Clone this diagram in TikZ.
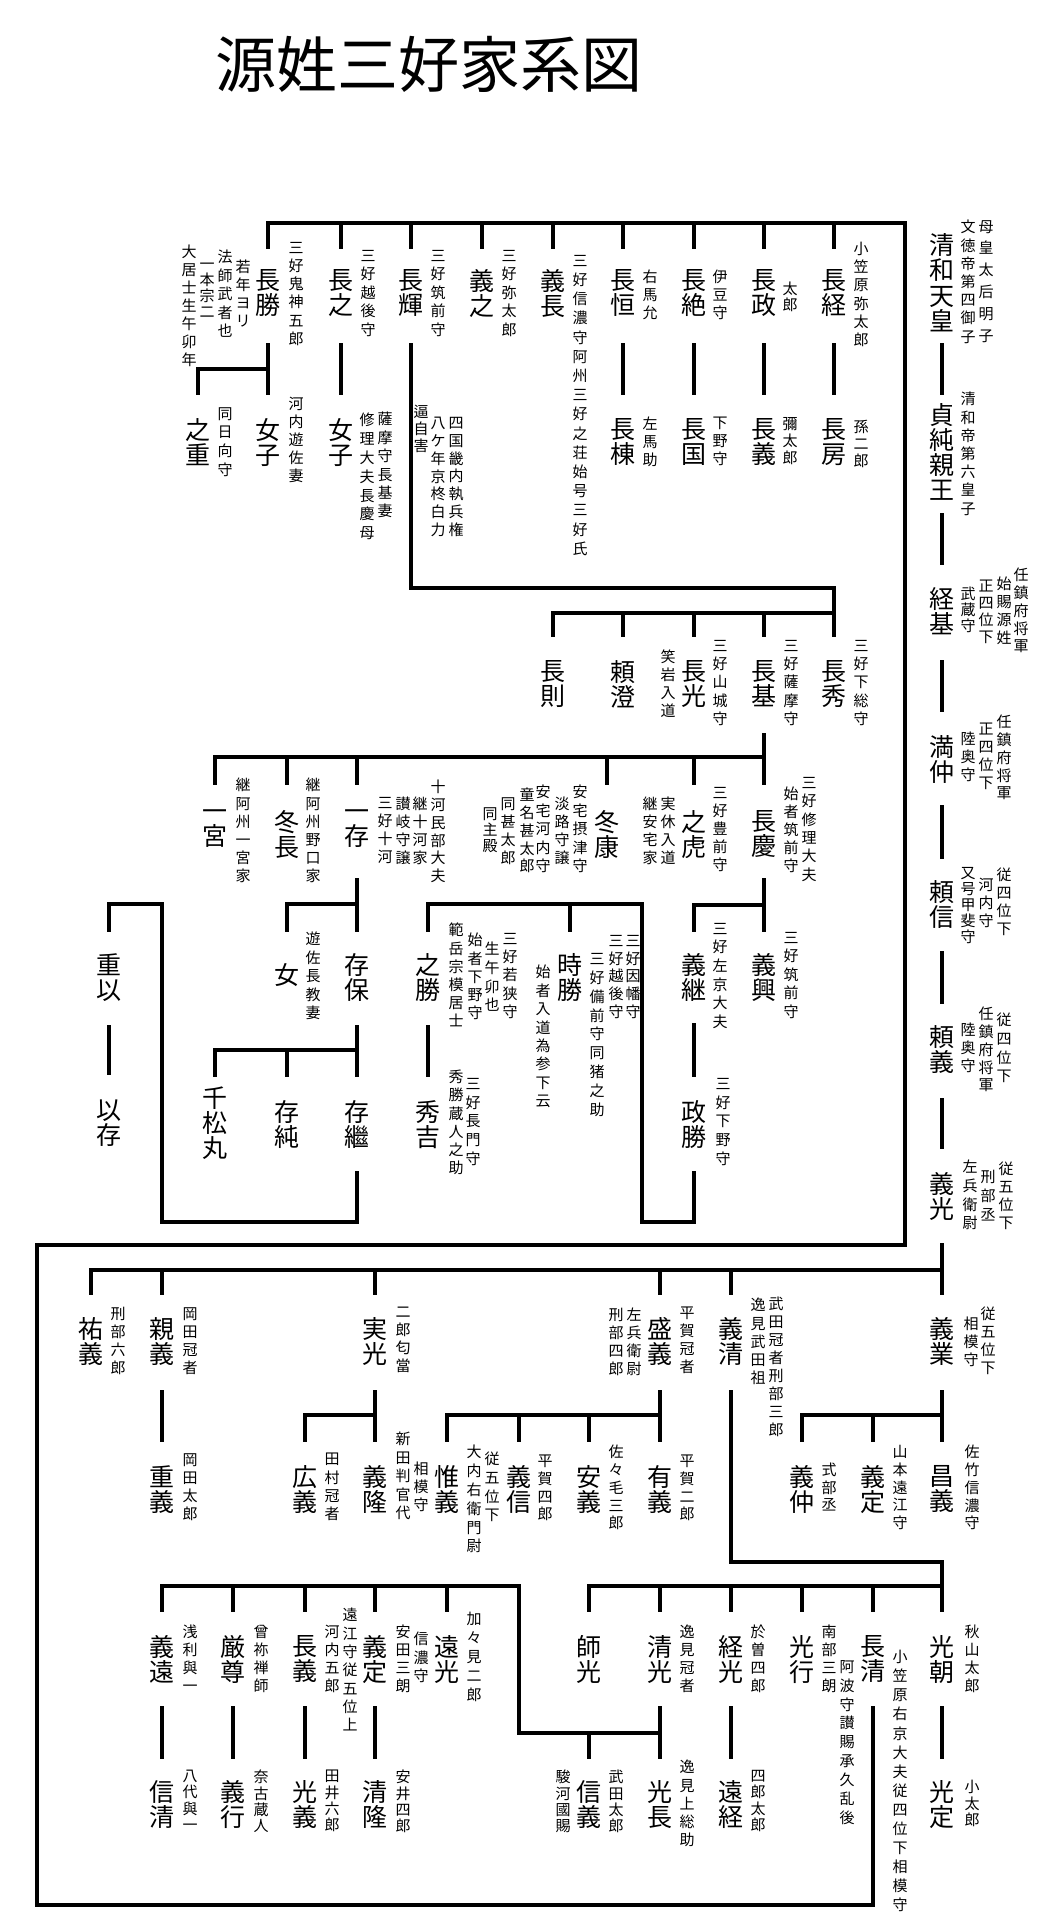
\documentclass[tikz,border=0pt]{standalone}
\usepackage{fontspec}
\newfontfamily\jp{Noto Sans CJK JP}
\def\vtend{\vtend}
\def\vtl#1{\ifx#1\vtend\else\hbox to 1em{\hss#1\hss}\expandafter\vtl\fi}
\newcommand\VT[2]{\vbox{\baselineskip=#1pt\lineskiplimit=-1000pt\lineskip=0pt\vtl#2\vtend}}
\newcommand\nmfont{\jp\fontsize{25}{25}\selectfont}
\newcommand\anfont{\jp\fontsize{15}{15}\selectfont}
\newcount\ancount
\tikzset{
  nm/.style={font=\nmfont, inner sep=0pt, anchor=north},
  an/.style={font=\anfont, inner sep=0pt, anchor=north},
  link/.style={line width=3.5pt, line cap=rect, line join=miter},
}
\newcommand\Nm[4]{\node[nm] (#1) at (#2,#3) {\VT{25}{#4}};}
\newcommand\An[4]{\global\advance\ancount by 1\node[an] (an\the\ancount) at (#1,#2) {\VT{#3}{#4}};}
\begin{document}
\begin{tikzpicture}[x=1pt,y=-1pt]
\fill[white] (0,0) rectangle (1055,1920);
\useasboundingbox (0,0) rectangle (1055,1920);
\node[font=\jp\fontsize{61}{61}\selectfont, inner sep=0pt] (title) at (429,64) {源姓三好家系図};

% ---------- trunk ----------
\node[nm] (t1) at (942,233) {\VT{25.5}{清和天皇}};
\node[nm] (t2) at (942,403) {\VT{25}{貞純親王}};
\Nm{t3}{942}{587}{経基}
\Nm{t4}{942}{735}{満仲}
\Nm{t5}{942}{880}{頼信}
\Nm{t6}{942}{1025}{頼義}
\Nm{t7}{942}{1172}{義光}

% ---------- top row ----------
\Nm{a1}{268}{269}{長勝}
\Nm{a2}{341}{269}{長之}
\Nm{a3}{411}{269}{長輝}
\Nm{a4}{482}{269}{義之}
\Nm{a5}{553}{269}{義長}
\Nm{a6}{623}{269}{長恒}
\Nm{a7}{694}{269}{長絶}
\Nm{a8}{764}{269}{長政}
\Nm{a9}{834}{269}{長経}
\Nm{b1}{198}{418}{之重}
\Nm{b2}{268}{418}{女子}
\Nm{b3}{341}{418}{女子}
\Nm{b6}{623}{418}{長棟}
\Nm{b7}{694}{418}{長国}
\Nm{b8}{764}{418}{長義}
\Nm{b9}{834}{418}{長房}

% ---------- row c ----------
\Nm{c1}{553}{660}{長則}
\Nm{c2}{623}{660}{頼澄}
\Nm{c3}{694}{660}{長光}
\Nm{c4}{764}{660}{長基}
\Nm{c5}{834}{660}{長秀}

% ---------- row d ----------
\Nm{d1}{215}{810}{一宮}
\Nm{d2}{287}{810}{冬長}
\Nm{d3}{357}{810}{一存}
\Nm{d4}{607}{810}{冬康}
\Nm{d5}{694}{810}{之虎}
\Nm{d6}{764}{810}{長慶}

% ---------- row e ----------
\Nm{e0}{109}{953}{重以}
\Nm{e1}{287}{963}{女}
\Nm{e2}{357}{953}{存保}
\Nm{e3}{428}{953}{之勝}
\Nm{e4}{570}{953}{時勝}
\Nm{e5}{694}{953}{義継}
\Nm{e6}{764}{953}{義興}

% ---------- row f ----------
\Nm{f0}{109}{1100}{以存}
\Nm{f1}{215}{1087}{千松丸}
\Nm{f2}{287}{1100}{存純}
\Nm{f3}{357}{1100}{存繼}
\Nm{f4}{428}{1100}{秀吉}
\Nm{f5}{694}{1100}{政勝}

% ---------- row g ----------
\Nm{g1}{91}{1317}{祐義}
\Nm{g2}{162}{1317}{親義}
\Nm{g3}{375}{1317}{実光}
\Nm{g4}{660}{1317}{盛義}
\Nm{g5}{731}{1317}{義清}
\Nm{g6}{942}{1317}{義業}

% ---------- row h ----------
\Nm{h1}{162}{1465}{重義}
\Nm{h2}{305}{1465}{広義}
\Nm{h3}{375}{1465}{義隆}
\Nm{h4}{447}{1465}{惟義}
\Nm{h5}{519}{1465}{義信}
\Nm{h6}{589}{1465}{安義}
\Nm{h7}{660}{1465}{有義}
\Nm{h8}{802}{1465}{義仲}
\Nm{h9}{873}{1465}{義定}
\Nm{h10}{942}{1465}{昌義}

% ---------- row i ----------
\Nm{i1}{162}{1635}{義遠}
\Nm{i2}{233}{1635}{厳尊}
\Nm{i3}{305}{1635}{長義}
\Nm{i4}{375}{1635}{義定}
\Nm{i5}{447}{1635}{遠光}
\Nm{i6}{589}{1635}{師光}
\Nm{i7}{660}{1635}{清光}
\Nm{i8}{731}{1635}{経光}
\Nm{i9}{802}{1635}{光行}
\Nm{i10}{873}{1635}{長清}
\Nm{i11}{942}{1635}{光朝}

% ---------- row j ----------
\Nm{j1}{162}{1780}{信清}
\Nm{j2}{233}{1780}{義行}
\Nm{j3}{305}{1780}{光義}
\Nm{j4}{375}{1780}{清隆}
\Nm{j5}{589}{1780}{信義}
\Nm{j6}{660}{1780}{光長}
\Nm{j7}{731}{1780}{遠経}
\Nm{j8}{942}{1780}{光定}

% ---------- annotations ----------
\An{861}{242}{18.2}{小笠原弥太郎}
\An{861}{420}{17}{孫二郎}
\An{790}{282}{16}{太郎}
\An{790}{417}{17}{彌太郎}
\An{720}{270}{18}{伊豆守}
\An{720}{417}{18}{下野守}
\An{650}{270}{18}{右馬允}
\An{650}{417}{18}{左馬助}
\An{580}{255}{19.2}{三好信濃守阿州三好之荘始号三好氏}
\An{509}{250}{18.5}{三好弥太郎}
\An{438}{250}{18.5}{三好筑前守}
\An{368}{250}{18.5}{三好越後守}
\An{296}{242}{18.2}{三好鬼神五郎}
\An{243}{260}{18}{若年ヨリ}
\An{225}{250}{18.5}{法師武者也}
\An{207}{263}{16}{一本宗二}
\An{189}{245}{18}{大居士生午卯年}
\An{225}{407}{18.7}{同日向守}
\An{296}{397}{18}{河内遊佐妻}
\An{385}{412}{18.4}{薩摩守長基妻}
\An{367}{413}{18.8}{修理大夫長慶母}
\An{421}{405}{17}{逼自害}
\An{438}{417}{17.8}{八ケ年京柊白力}
\An{456}{417}{17.8}{四国畿内執兵権}

\An{986}{220}{21.8}{母皇太后明子}
\An{968}{220}{18.2}{文徳帝第四御子}
\An{968}{392}{18.2}{清和帝第六皇子}
\An{1021}{568}{17.75}{任鎮府将軍}
\An{1004}{577}{18}{始賜源姓}
\An{986}{580}{17}{正四位下}
\An{968}{587}{16}{武蔵守}
\An{1004}{715}{17.75}{任鎮府将軍}
\An{986}{723}{18}{正四位下}
\An{968}{732}{18}{陸奥守}
\An{1004}{868}{18}{従四位下}
\An{986}{878}{18}{河内守}
\An{968}{867}{16}{又号甲斐守}
\An{1004}{1013}{18.7}{従四位下}
\An{986}{1007}{17.75}{任鎮府将軍}
\An{968}{1023}{18}{陸奥守}
\An{1006}{1162}{18}{従五位下}
\An{988}{1170}{19}{刑部丞}
\An{970}{1160}{18.7}{左兵衛尉}

\An{861}{640}{18.25}{三好下総守}
\An{791}{640}{18.25}{三好薩摩守}
\An{720}{640}{18.25}{三好山城守}
\An{668}{650}{18}{笑岩入道}
\An{809}{777}{18.4}{三好修理大夫}
\An{791}{787}{18}{始者筑前守}
\An{720}{787}{18}{三好豊前守}
\An{668}{797}{18}{実休入道}
\An{650}{797}{18}{継安宅家}
\An{580}{785}{18.5}{安宅摂津守}
\An{562}{797}{18}{淡路守譲}
\An{543}{785}{18.5}{安宅河内守}
\An{527}{788}{17.75}{童名甚太郎}
\An{508}{797}{18}{同甚太郎}
\An{490}{807}{16}{同主殿}
\An{438}{780}{17.8}{十河民部大夫}
\An{420}{797}{18}{継十河家}
\An{403}{797}{18}{讃岐守譲}
\An{385}{797}{18}{三好十河}
\An{313}{778}{18.2}{継阿州野口家}
\An{243}{778}{18.2}{継阿州一宮家}
\An{791}{932}{18.5}{三好筑前守}
\An{720}{923}{18.6}{三好左京大夫}
\An{313}{932}{18.5}{遊佐長教妻}
\An{510}{933}{18.25}{三好若狭守}
\An{492}{942}{18.7}{生午卯也}
\An{475}{933}{18.25}{始者下野守}
\An{456}{923}{18.2}{範岳宗模居士}
\An{633}{935}{17.75}{三好因幡守}
\An{616}{935}{17.75}{三好越後守}
\An{597}{953}{18.9}{三好備前守同猪之助}
\An{543}{965}{18.4}{始者入道為参下云}
\An{473}{1078}{18.75}{三好長門守}
\An{456}{1070}{18.2}{秀勝蔵人之助}
\An{723}{1078}{18.75}{三好下野守}

\An{118}{1307}{18}{刑部六郎}
\An{190}{1307}{18}{岡田冠者}
\An{403}{1307}{18}{二郎匂當}
\An{687}{1307}{18}{平賀冠者}
\An{634}{1308}{18}{左兵衛尉}
\An{616}{1308}{18}{刑部四郎}
\An{776}{1297}{18}{武田冠者刑部三郎}
\An{758}{1298}{18.25}{逸見武田祖}
\An{971}{1317}{18}{相模守}
\An{988}{1307}{18}{従五位下}
\An{190}{1453}{18.3}{岡田太郎}
\An{332}{1453}{18.3}{田村冠者}
\An{403}{1432}{18.5}{新田判官代}
\An{421}{1462}{18}{相模守}
\An{492}{1452}{18.7}{従五位下}
\An{474}{1445}{18.8}{大内右衛門尉}
\An{545}{1455}{17.7}{平賀四郎}
\An{616}{1445}{17.75}{佐々毛三郎}
\An{687}{1455}{17.7}{平賀二郎}
\An{829}{1463}{17.5}{式部丞}
\An{900}{1445}{17.75}{山本遠江守}
\An{972}{1445}{17.75}{佐竹信濃守}
\An{190}{1625}{18}{浅利與一}
\An{261}{1625}{18}{曾祢禅師}
\An{332}{1625}{18}{河内五郎}
\An{350}{1608}{18.3}{遠江守従五位上}
\An{403}{1625}{18}{安田三朗}
\An{421}{1632}{18.5}{信濃守}
\An{474}{1612}{19}{加々見二郎}
\An{687}{1625}{18}{逸見冠者}
\An{758}{1625}{18}{於曽四郎}
\An{829}{1625}{18}{南部三朗}
\An{847}{1660}{18.9}{阿波守讃賜承久乱後}
\An{900}{1650}{19.1}{小笠原右京大夫従四位下相模守}
\An{972}{1625}{18}{秋山太郎}
\An{190}{1770}{16.3}{八代與一}
\An{261}{1770}{16.3}{奈古蔵人}
\An{332}{1770}{16.3}{田井六郎}
\An{403}{1770}{16.3}{安井四郎}
\An{616}{1770}{16.3}{武田太郎}
\An{563}{1770}{16.3}{駿河國賜}
\An{687}{1760}{18.25}{逸見上総助}
\An{758}{1770}{16.3}{四郎太郎}
\An{972}{1780}{16.5}{小太郎}

% ---------- named corner coordinates ----------
\coordinate (fbl) at (37,1905);
\coordinate (ftl) at (37,1245);
\coordinate (ftr) at (905,1245);
\coordinate (ftop) at (905,223);
\coordinate (kA) at (162,1222);
\coordinate (kB) at (162,904);
\coordinate (kC) at (642,1222);
\coordinate (kD) at (642,904);
\coordinate (kE) at (519,1733);
\coordinate (kF) at (519,1586);

% ---------- connectors ----------
% trunk
\draw[link] (t1.south |- 0,345) -- (t2.north |- 0,393);
\draw[link] (t2.south |- 0,515) -- (t3.north |- 0,563);
\draw[link] (t3.south |- 0,662) -- (t4.north |- 0,710);
\draw[link] (t4.south |- 0,807) -- (t5.north |- 0,857);
\draw[link] (t5.south |- 0,953) -- (t6.north |- 0,1002);
\draw[link] (t6.south |- 0,1100) -- (t7.north |- 0,1147);
\draw[link] (t7.south |- 0,1245) -- (g6.north |- 0,1293);
\draw[link] (g1.north |- 0,1293) -- (g1.north |- 0,1270) -- (g6.north |- 0,1270);
\foreach \n in {g2,g3,g4,g5} \draw[link] (\n.north |- 0,1270) -- (\n.north |- 0,1293);

% big frame from 長清 to the top row
\draw[link] (i10.south |- 0,1708) -- (i10.south |- fbl) -- (fbl) -- (ftl) -- (ftr) -- (ftop) -- (a1.north |- ftop) -- (a1.north |- 0,247);
\foreach \n in {a2,a3,a4,a5,a6,a7,a8,a9} \draw[link] (\n.north |- ftop) -- (\n.north |- 0,247);

% top row children
\draw[link] (a1.south |- 0,345) -- (b2.north |- 0,393);
\draw[link] (a1.south |- 0,369) -- (b1.north |- 0,369) -- (b1.north |- 0,393);
\draw[link] (a2.south |- 0,345) -- (b3.north |- 0,393);
\draw[link] (a6.south |- 0,345) -- (b6.north |- 0,393);
\draw[link] (a7.south |- 0,345) -- (b7.north |- 0,393);
\draw[link] (a8.south |- 0,345) -- (b8.north |- 0,393);
\draw[link] (a9.south |- 0,345) -- (b9.north |- 0,393);

% 長輝 -> row c
\draw[link] (a3.south |- 0,345) -- (a3.south |- 0,588) -- (c5.north |- 0,588) -- (c5.north |- 0,635);
\draw[link] (c1.north |- 0,635) -- (c1.north |- 0,613) -- (c5.north |- 0,613);
\foreach \n in {c2,c3,c4} \draw[link] (\n.north |- 0,613) -- (\n.north |- 0,635);

% 長基 -> row d
\draw[link] (c4.south |- 0,735) -- (d6.north |- 0,783);
\draw[link] (d1.north |- 0,783) -- (d1.north |- 0,757) -- (d6.north |- 0,757);
\foreach \n in {d2,d3,d4,d5} \draw[link] (\n.north |- 0,757) -- (\n.north |- 0,783);

% 長慶 -> 義継, 義興
\draw[link] (d6.south |- 0,880) -- (e6.north |- 0,930);
\draw[link] (e5.north |- 0,930) -- (e5.north |- 0,905) -- (d6.south |- 0,905);
% 一存 -> 女, 存保
\draw[link] (d3.south |- 0,880) -- (e2.north |- 0,930);
\draw[link] (e1.north |- 0,930) -- (e1.north |- 0,904) -- (d3.south |- 0,904);
% 存保 -> 千松丸, 存純, 存繼
\draw[link] (e2.south |- 0,1027) -- (f3.north |- 0,1075);
\draw[link] (f1.north |- 0,1075) -- (f1.north |- 0,1050) -- (e2.south |- 0,1050);
\draw[link] (f2.north |- 0,1050) -- (f2.north |- 0,1075);
% 存繼 -> 重以
\draw[link] (f3.south |- 0,1173) -- (f3.south |- kA) -- (kA) -- (kB) -- (e0.north |- kB) -- (e0.north |- 0,930);
\draw[link] (e0.south |- 0,1027) -- (f0.north |- 0,1073);
% 義継 -> 政勝
\draw[link] (e5.south |- 0,1025) -- (f5.north |- 0,1075);
% 政勝 -> 之勝, 時勝
\draw[link] (f5.south |- 0,1173) -- (f5.south |- kC) -- (kC) -- (kD) -- (e3.north |- kD) -- (e3.north |- 0,930);
\draw[link] (e4.north |- kD) -- (e4.north |- 0,930);
% 之勝 -> 秀吉
\draw[link] (e3.south |- 0,1027) -- (f4.north |- 0,1075);

% row g children
\draw[link] (g2.south |- 0,1392) -- (h1.north |- 0,1440);
\draw[link] (g3.south |- 0,1392) -- (h3.north |- 0,1440);
\draw[link] (h2.north |- 0,1440) -- (h2.north |- 0,1415) -- (g3.south |- 0,1415);
\draw[link] (g4.south |- 0,1392) -- (h7.north |- 0,1440);
\draw[link] (h4.north |- 0,1440) -- (h4.north |- 0,1415) -- (g4.south |- 0,1415);
\foreach \n in {h5,h6} \draw[link] (\n.north |- 0,1415) -- (\n.north |- 0,1440);
\draw[link] (g6.south |- 0,1392) -- (h10.north |- 0,1440);
\draw[link] (h8.north |- 0,1440) -- (h8.north |- 0,1415) -- (g6.south |- 0,1415);
\draw[link] (h9.north |- 0,1415) -- (h9.north |- 0,1440);

% 義清 -> row i (right)
\draw[link] (g5.south |- 0,1392) -- (g5.south |- 0,1562) -- (i11.north |- 0,1562) -- (i11.north |- 0,1610);
\draw[link] (i6.north |- 0,1610) -- (i6.north |- 0,1586) -- (i11.north |- 0,1586);
\foreach \n in {i7,i8,i9,i10} \draw[link] (\n.north |- 0,1586) -- (\n.north |- 0,1610);

% 清光 -> 信義, 光長 and row i (left)
\draw[link] (i7.south |- 0,1708) -- (j6.north |- 0,1757);
\draw[link] (i7.south |- kE) -- (kE) -- (kF) -- (i1.north |- kF) -- (i1.north |- 0,1610);
\draw[link] (j5.north |- kE) -- (j5.north |- 0,1757);
\foreach \n in {i2,i3,i4,i5} \draw[link] (\n.north |- kF) -- (\n.north |- 0,1610);

% row i -> row j
\draw[link] (i1.south |- 0,1708) -- (j1.north |- 0,1757);
\draw[link] (i2.south |- 0,1708) -- (j2.north |- 0,1757);
\draw[link] (i3.south |- 0,1708) -- (j3.north |- 0,1757);
\draw[link] (i4.south |- 0,1708) -- (j4.north |- 0,1757);
\draw[link] (i8.south |- 0,1708) -- (j7.north |- 0,1757);
\draw[link] (i11.south |- 0,1708) -- (j8.north |- 0,1757);
\end{tikzpicture}
\end{document}
